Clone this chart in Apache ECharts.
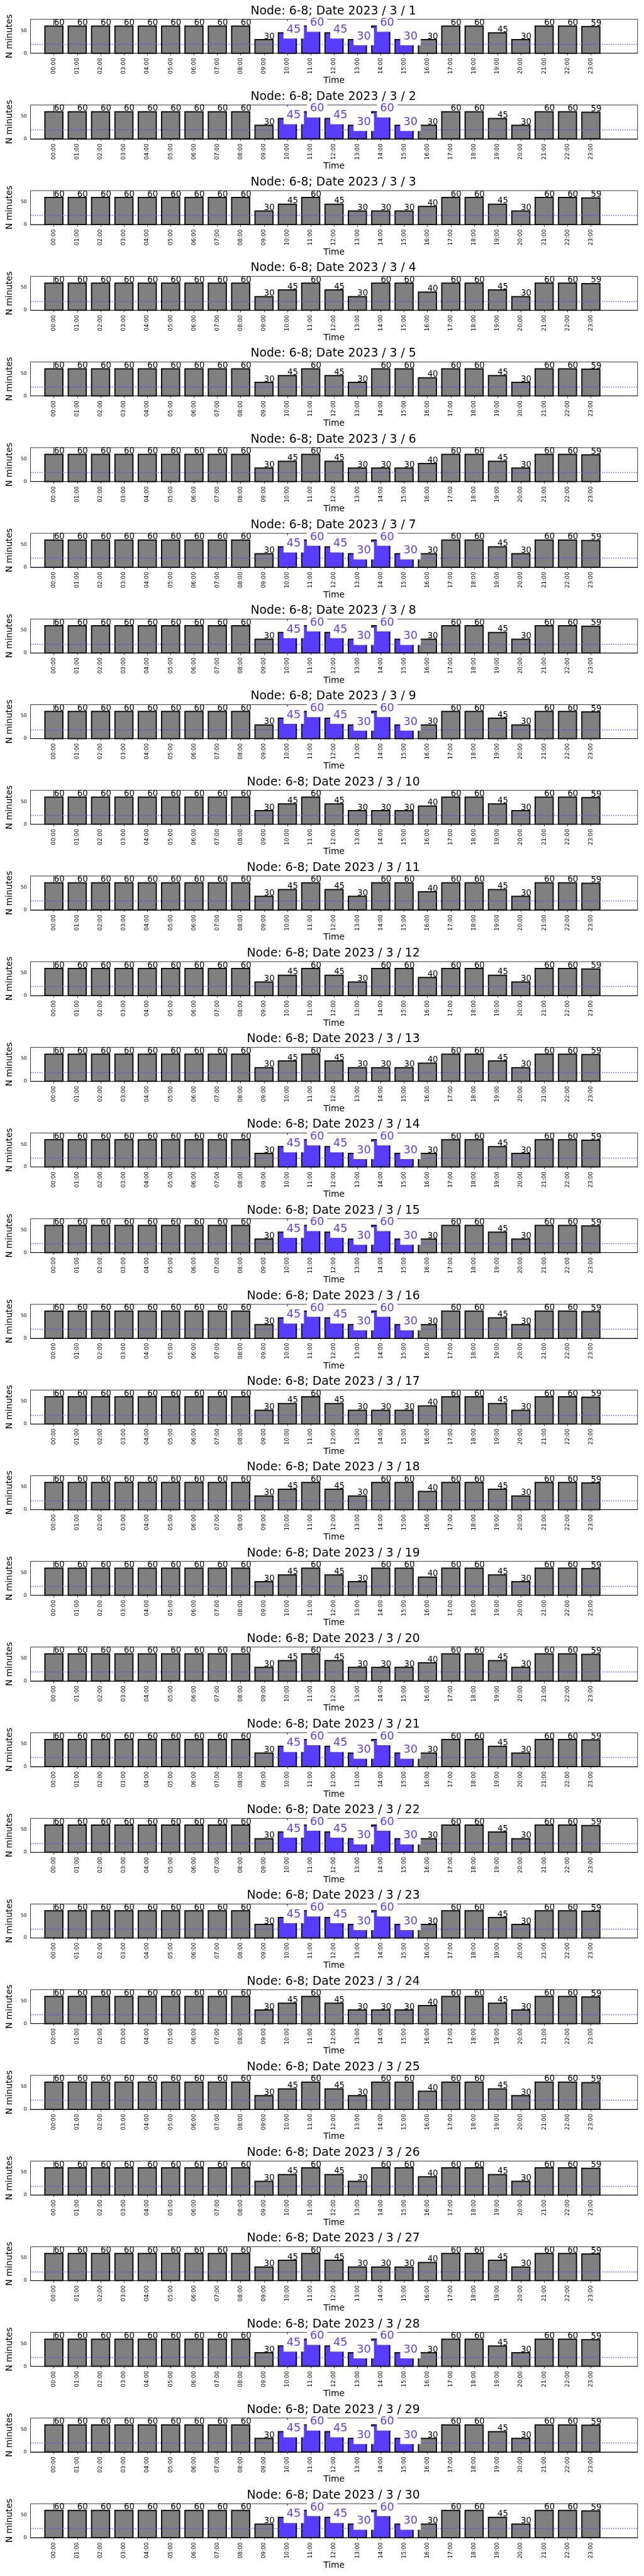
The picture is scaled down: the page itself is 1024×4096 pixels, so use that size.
<!DOCTYPE html>
<html>
<head>
<meta charset="utf-8">
<script src="https://cdn.jsdelivr.net/npm/echarts@6/dist/echarts.min.js"></script>
<style>
html,body{margin:0;padding:0;background:#fff;}
#chart{width:1024px;height:4096px;}
</style>
</head>
<body>
<div id="chart"></div>
<script>
// ---------------- DATA ----------------
const hours = ['00:00','01:00','02:00','03:00','04:00','05:00','06:00','07:00','08:00','09:00','10:00','11:00',
               '12:00','13:00','14:00','15:00','16:00','17:00','18:00','19:00','20:00','21:00','22:00','23:00'];
const days = [1,2,3,4,5,6,7,8,9,10,11,12,13,14,15,16,17,18,19,20,21,22,23,24,25,26,27,28,29,30];
const highlightDays = [1,2,7,8,9,14,15,16,21,22,23,28,29,30];
const highlightHours = [10,11,12,13,14,15];
const weekdayPatternADays = [3,6,10,13,17,20,24,27];
const weekendPatternBDays = [4,5,11,12,18,19,25,26];
const valuesHighlightDays = [60,60,60,60,60,60,60,60,60,30,45,60,45,30,60,30,30,60,60,45,30,60,60,59];
const valuesPatternA      = [60,60,60,60,60,60,60,60,60,30,45,60,45,30,30,30,40,60,60,45,30,60,60,59];
const valuesPatternB      = [60,60,60,60,60,60,60,60,60,30,45,60,45,30,60,60,40,60,60,45,30,60,60,59];
const thresholdLevel = 20;
const markerHour = 10;
const yTickValues = [0, 50];
const yMax = 75;
const xMin = -1, xMax = 25;
const nodeName = '6-8';

// ---------------- LAYOUT / STYLE ----------------
const S = 1024 / 1500;
const gridLeft = 68 * S;
const gridRightEdge = 1485 * S;
const gridTop0 = 45 * S;
const pitch = 199.54 * S;
const gridH = 79 * S;
const BLUE = '#583cff';
const GRAY = '#808080';
const FONT = 'DejaVu Sans';
const BAR_W = 0.77;

function valuesFor(d) {
  if (highlightDays.includes(d)) return valuesHighlightDays;
  if (weekdayPatternADays.includes(d)) return valuesPatternA;
  return valuesPatternB;
}
const hourIdx = hours.map((h, i) => i);

function renderBar(params, api) {
  const x = api.value(0), v = api.value(1), hl = api.value(2);
  const p1 = api.coord([x, v]);
  const p0 = api.coord([x, 0]);
  const w = api.size([BAR_W, 0])[0];
  return {
    type: 'rect',
    shape: { x: p1[0] - w / 2, y: p1[1], width: w, height: p0[1] - p1[1] },
    style: { fill: hl ? BLUE : GRAY, stroke: '#111', lineWidth: 2 }
  };
}

function renderLabel(params, api) {
  const x = api.value(0), v = api.value(1), hl = api.value(2);
  const p = api.coord([x, v]);
  if (hl) {
    return {
      type: 'text', x: p[0] - 6.1, y: p[1] + 9,
      style: { text: String(v), fill: BLUE, fontSize: 17.7, fontFamily: FONT, lineHeight: 17.7,
               align: 'left', verticalAlign: 'bottom', backgroundColor: '#fff', padding: [5, 5] }
    };
  }
  return {
    type: 'text', x: p[0], y: p[1] + 1.8,
    style: { text: String(v), fill: '#000', fontSize: 13.3, fontFamily: FONT, lineHeight: 13.3,
             align: 'left', verticalAlign: 'bottom' }
  };
}

const option = {
  animation: false,
  backgroundColor: '#fff',
  title: [], grid: [], xAxis: [], yAxis: [], series: []
};

days.forEach((d, k) => {
  const top = gridTop0 + k * pitch;
  const vals = valuesFor(d);
  const hl = highlightDays.includes(d);
  const seriesData = vals.map((v, i) => [i, v, (hl && highlightHours.includes(i)) ? 1 : 0]);

  option.title.push({
    text: 'Node: ' + nodeName + '; Date 2023 / 3 / ' + d,
    left: (gridLeft + gridRightEdge) / 2,
    top: top - 13 - 9.5,
    textAlign: 'center',
    padding: 0,
    textStyle: { fontFamily: FONT, fontSize: 18.8, fontWeight: 'normal', color: '#000', lineHeight: 19 }
  });

  option.grid.push({
    left: gridLeft, width: gridRightEdge - gridLeft, top: top, height: gridH,
    show: true, borderColor: '#000', borderWidth: 0.8, backgroundColor: 'transparent'
  });

  option.xAxis.push({
    type: 'value', gridIndex: k, min: xMin, max: xMax, scale: true,
    name: 'Time', nameLocation: 'middle', nameGap: 36,
    nameTextStyle: { fontFamily: FONT, fontSize: 13.9, color: '#000' },
    axisLine: { show: true, onZero: false, lineStyle: { color: '#000', width: 0.8 } },
    axisTick: { show: true, length: 3.3, customValues: hourIdx, lineStyle: { color: '#000', width: 0.8 } },
    axisLabel: { show: true, customValues: hourIdx, rotate: 90, margin: 7.5, fontSize: 8.9,
                 fontFamily: FONT, color: '#000', formatter: v => hours[v] },
    splitLine: { show: false }
  });

  option.yAxis.push({
    type: 'value', gridIndex: k, min: 0, max: yMax,
    name: 'N minutes', nameLocation: 'middle', nameGap: 24, nameRotate: 90,
    nameTextStyle: { fontFamily: FONT, fontSize: 13.7, color: '#000' },
    axisLine: { show: true, lineStyle: { color: '#000', width: 0.8 } },
    axisTick: { show: true, length: 3.3, customValues: yTickValues, lineStyle: { color: '#000', width: 0.8 } },
    axisLabel: { show: true, customValues: yTickValues, margin: 6, fontSize: 7.6, fontFamily: FONT, color: '#000' },
    splitLine: { show: false }
  });

  option.series.push({
    type: 'custom', xAxisIndex: k, yAxisIndex: k, z: 2, silent: true,
    encode: { x: 0, y: 1 }, data: seriesData, renderItem: renderBar
  });

  const ml = [{ yAxis: thresholdLevel, lineStyle: { color: BLUE, width: 1.37, type: [1.37, 2.25] } }];
  if (hl) ml.push({ xAxis: markerHour, lineStyle: { color: BLUE, width: 1.6, type: 'solid' } });
  option.series.push({
    type: 'line', xAxisIndex: k, yAxisIndex: k, z: 3, silent: true, data: [],
    markLine: { silent: true, symbol: 'none', animation: false, label: { show: false }, data: ml }
  });

  option.series.push({
    type: 'custom', xAxisIndex: k, yAxisIndex: k, z: 5, silent: true,
    encode: { x: 0, y: 1 }, data: seriesData, renderItem: renderLabel
  });
});

const chart = echarts.init(document.getElementById('chart'), null, { renderer: 'canvas', width: 1024, height: 4096 });
chart.setOption(option);
</script>
</body>
</html>
